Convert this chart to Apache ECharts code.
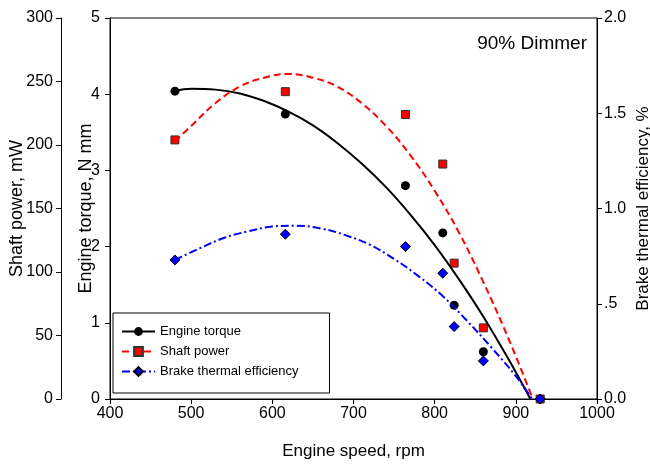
<!DOCTYPE html>
<html>
<head>
<meta charset="utf-8">
<script src="https://cdn.jsdelivr.net/npm/echarts@6/dist/echarts.min.js"></script>
<style>html,body{margin:0;padding:0;background:#fff;}#chart{width:650px;height:464px;}</style>
</head>
<body>
<div id="chart"></div>
<script>
// Measured points
const speedPts  = [480, 616, 764, 810, 824, 860, 930];
const torquePts = [4.04, 3.74, 2.80, 2.18, 1.23, 0.62, 0];
const powerPts  = [204, 242, 224, 185, 107, 56, 0];
const btePts    = [0.73, 0.865, 0.80, 0.66, 0.38, 0.20, 0];

// Fitted curves
const torqueFitX = [480, 500, 530, 560, 590, 620, 650, 680, 710, 740, 770, 800, 830, 860, 890, 918];
const torqueFitY = [4.04, 4.07, 4.06, 4.01, 3.91, 3.77, 3.59, 3.36, 3.09, 2.78, 2.42, 2.02, 1.57, 1.08, 0.54, 0];
const powerFitX  = [480, 500, 530, 560, 590, 620, 650, 680, 710, 740, 770, 800, 830, 860, 890, 921];
const powerFitY  = [203, 215, 233, 246, 253, 256, 253, 246, 233, 215, 192, 164, 131, 92, 49, 0];
const bteFitX    = [480, 510, 540, 570, 600, 630, 660, 690, 720, 750, 780, 810, 840, 870, 900, 920];
const bteFitY    = [0.73, 0.79, 0.845, 0.88, 0.905, 0.91, 0.895, 0.86, 0.81, 0.735, 0.645, 0.54, 0.41, 0.27, 0.12, 0];

const seriesNames = ['Engine torque', 'Shaft power', 'Brake thermal efficiency'];
const titleText = '90% Dimmer';

const zip = (xs, ys) => xs.map((x, i) => [x, ys[i]]);
const FONT = 'Liberation Sans, Arial, sans-serif';

const axisCommon = {
  axisLine: { show: true, lineStyle: { color: '#000', width: 1 } },
  axisTick: { show: true, inside: false, length: 5, lineStyle: { color: '#000' } },
  splitLine: { show: false },
  nameLocation: 'middle',
  nameMoveOverlap: false
};

const chart = echarts.init(document.getElementById('chart'), null, { renderer: 'canvas' });
chart.setOption({
  animation: false,
  backgroundColor: '#fff',
  textStyle: { fontFamily: FONT, color: '#000' },
  title: {
    text: titleText, right: 63, top: 34, padding: 0,
    textStyle: { fontSize: 19, fontWeight: 'normal', color: '#000', fontFamily: FONT }
  },
  grid: { left: 110, right: 53, top: 18, bottom: 65, outerBoundsMode: 'none', containLabel: false,
    show: true, borderColor: '#000', borderWidth: 1, backgroundColor: 'transparent' },
  legend: {
    data: seriesNames,
    orient: 'vertical',
    left: 113, top: 313,
    padding: [12, 31, 15, 8],
    itemGap: 7,
    itemWidth: 33, itemHeight: 11,
    borderColor: '#000', borderWidth: 1,
    backgroundColor: '#fff',
    textStyle: { fontSize: 13, color: '#000', fontFamily: FONT }
  },
  xAxis: Object.assign({}, axisCommon, {
    type: 'value', min: 400, max: 1000, interval: 100,
    name: 'Engine speed, rpm', nameGap: 44,
    nameTextStyle: { fontSize: 17, color: '#000', fontFamily: FONT },
    axisLabel: { fontSize: 16, color: '#000', margin: 7, fontFamily: FONT, formatter: v => String(v) }
  }),
  yAxis: [
    Object.assign({}, axisCommon, {
      type: 'value', position: 'left', min: 0, max: 5, interval: 1,
      name: 'Engine torque, N mm', nameGap: 15,
      nameTextStyle: { fontSize: 18, color: '#000', fontFamily: FONT },
      axisLabel: { fontSize: 16, color: '#000', margin: 10, fontFamily: FONT }
    }),
    Object.assign({}, axisCommon, {
      type: 'value', position: 'left', offset: 49, min: 0, max: 300, interval: 50,
      name: 'Shaft power, mW', nameGap: 35,
      nameTextStyle: { fontSize: 18, color: '#000', fontFamily: FONT },
      axisLabel: { fontSize: 16, color: '#000', margin: 8, fontFamily: FONT }
    }),
    Object.assign({}, axisCommon, {
      type: 'value', position: 'right', min: 0, max: 2, interval: 0.5,
      name: 'Brake thermal efficiency, %', nameGap: 38,
      nameTextStyle: { fontSize: 17, color: '#000', fontFamily: FONT },
      axisLabel: { fontSize: 16, color: '#000', margin: 7, fontFamily: FONT,
        formatter: v => (v === 0.5 ? '.5' : v.toFixed(1)) }
    })
  ],
  series: [
    { name: seriesNames[0], type: 'line', yAxisIndex: 0, data: zip(torqueFitX, torqueFitY),
      smooth: 0.4, showSymbol: false, symbol: 'circle',
      lineStyle: { color: '#000', width: 2, type: 'solid' },
      itemStyle: { color: '#000' } },
    { name: seriesNames[1], type: 'line', yAxisIndex: 1, data: zip(powerFitX, powerFitY),
      smooth: 0.4, showSymbol: false, symbol: 'rect',
      lineStyle: { color: '#ff0000', width: 2, type: [7, 4] },
      itemStyle: { color: '#ff0000', borderColor: '#333', borderWidth: 1 } },
    { name: seriesNames[2], type: 'line', yAxisIndex: 2, data: zip(bteFitX, bteFitY),
      smooth: 0.4, showSymbol: false, symbol: 'diamond',
      lineStyle: { color: '#0000ff', width: 2, type: [8, 3, 2, 3] },
      itemStyle: { color: '#0000ff', borderColor: '#000', borderWidth: 1 } },
    { name: 'torque points', type: 'scatter', yAxisIndex: 0, data: zip(speedPts, torquePts),
      symbol: 'circle', symbolSize: 9, itemStyle: { color: '#000', opacity: 1 } },
    { name: 'power points', type: 'scatter', yAxisIndex: 1, data: zip(speedPts, powerPts),
      symbol: 'rect', symbolSize: 8, itemStyle: { color: '#ff0000', borderColor: '#333', borderWidth: 1, opacity: 1 } },
    { name: 'bte points', type: 'scatter', yAxisIndex: 2, data: zip(speedPts, btePts),
      symbol: 'diamond', symbolSize: 10, itemStyle: { color: '#0000ff', borderColor: '#000', borderWidth: 1, opacity: 1 } }
  ]
});
</script>
</body>
</html>
